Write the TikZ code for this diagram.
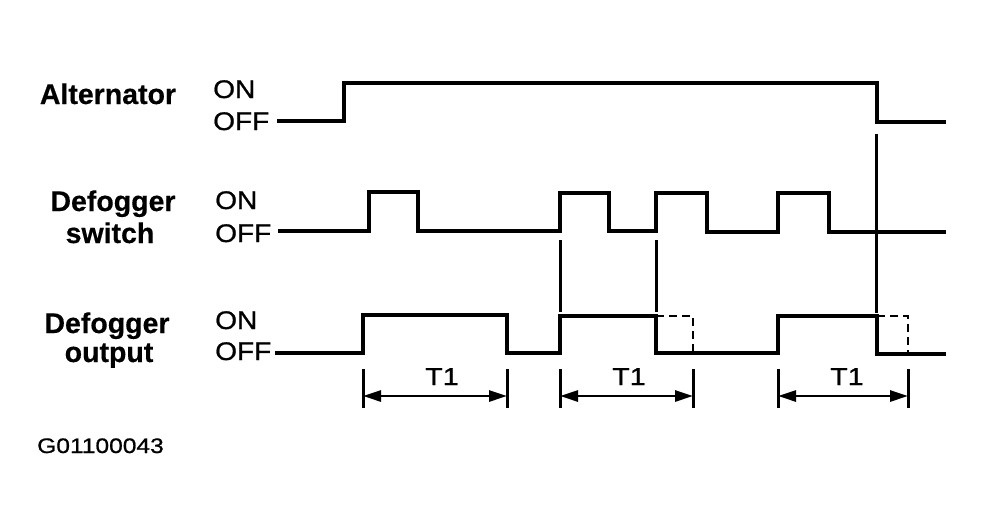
\documentclass[tikz,border=0pt]{standalone}
\usepackage{fontspec}
\setmainfont{Liberation Sans}[FakeStretch=1.17]
\newfontfamily\lblfont{Liberation Sans Bold}[FakeStretch=1.0, FakeBold=0.4]
\newfontfamily\stfont{Liberation Sans}[FakeStretch=1.1, FakeBold=0.8]
\newfontfamily\codefont{Liberation Sans}[FakeStretch=1.17, FakeBold=0.8]
\usetikzlibrary{arrows.meta}
\begin{document}
\begin{tikzpicture}[x=1pt,y=-1pt,
  lbl/.style={inner sep=0pt, anchor=base, font=\lblfont\fontsize{28.5}{30}\selectfont},
  st/.style={inner sep=0pt, anchor=base west, font=\stfont\fontsize{25.5}{27}\selectfont},
  tlbl/.style={inner sep=0pt, anchor=base, font=\codefont\fontsize{24.5}{26}\selectfont},
  wave/.style={line width=3.2pt, line join=miter, line cap=butt},
  ghost/.style={line width=2.8pt, dash pattern=on 8pt off 5pt},
  link/.style={line width=3pt},
  tickline/.style={line width=3pt},
  dim/.style={line width=2.8pt, {Triangle[length=18pt,width=11pt]}-{Triangle[length=18pt,width=11pt]}, shorten <=0pt, shorten >=0pt}
]
\useasboundingbox (0,0) rectangle (984,531);

% row labels
\node[lbl] (alt) at (108,104) {Alternator};
\node[lbl] (sw1) at (113,211) {Defogger};
\node[lbl] (sw2) at (110,243) {switch};
\node[lbl] (out1) at (107,333) {Defogger};
\node[lbl] (out2) at (109,362) {output};

% state labels
\node[st] (on1) at (213,98) {ON};
\node[st] (off1) at (213,130) {OFF};
\node[st] (on2) at (215,209) {ON};
\node[st] (off2) at (215,242) {OFF};
\node[st] (on3) at (215,329) {ON};
\node[st] (off3) at (215,360) {OFF};

% waveforms
\draw[wave] (277,121) -- (344,121) -- (344,83) -- (877,83) -- (877,122) -- (946,122);
\draw[wave] (278,231) -- (369,231) -- (369,192) -- (418,192) -- (418,231) -- (560,231) -- (560,193) -- (609,193) -- (609,231) -- (656,231) -- (656,193) -- (707,193) -- (707,232) -- (778,232) -- (778,193) -- (829,193) -- (829,232) -- (946,232);
\draw[wave] (275,353) -- (363,353) -- (363,315) -- (507,315) -- (507,353) -- (560,353) -- (560,316) -- (656,316) -- (656,353) -- (778,353) -- (778,316) -- (877,316) -- (877,354) -- (946,354);
\draw[ghost] (656,316) -- (693,316) -- (693,353);
\draw[ghost] (877,316) -- (908,316) -- (908,354);

% link lines
\coordinate (l1a) at (560,240); \coordinate (l1b) at (560,312);
\coordinate (l2a) at (656,240); \coordinate (l2b) at (656,312);
\coordinate (l3a) at (876,134); \coordinate (l3b) at (876,313);
\draw[link] (l1a) -- (l1b);
\draw[link] (l2a) -- (l2b);
\draw[link] (l3a) -- (l3b);

% T1 dimensions
\foreach \n/\xa/\xb/\xl in {1/363/507/442, 2/560/693/629, 3/778/908/847}{
  \coordinate (t\n a) at (\xa,396);
  \coordinate (t\n b) at (\xb,396);
  \draw[tickline] (\xa,369) -- (\xa,408);
  \draw[tickline] (\xb,369) -- (\xb,408);
  \draw[dim] (t\n a) -- (t\n b);
  \node[tlbl] (T\n) at (\xl,385) {T1};
}

\node[inner sep=0pt, anchor=base west, font=\codefont\fontsize{21}{24}\selectfont] (code) at (37,453) {G01100043};
\end{tikzpicture}
\end{document}
